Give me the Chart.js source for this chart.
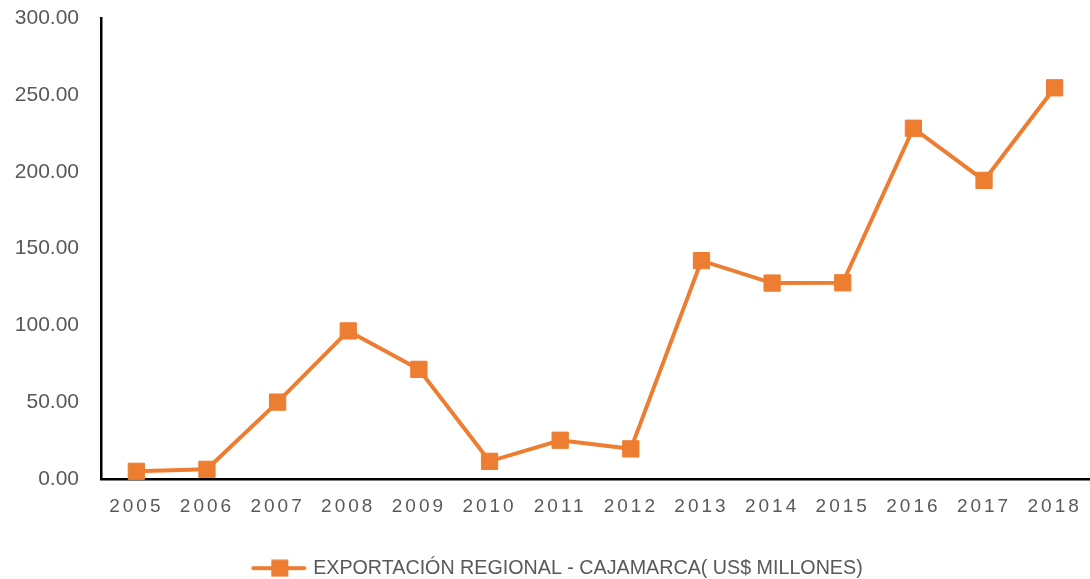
<!DOCTYPE html>
<html lang="es">
<head>
    <meta charset="UTF-8">
    <title>Exportación regional - Cajamarca</title>
    <script src="https://cdn.jsdelivr.net/npm/chart.js"></script>
    <style>
        html, body { margin: 0; padding: 0; background: #fff; }
        #wrap { width: 1090px; height: 579px; }
    </style>
</head>
<body>
    <div id="wrap">
        <canvas id="expChart" width="1090" height="579"></canvas>
    </div>

    <script>
        // años y exportaciones (US$ millones)
        const years = ['2005', '2006', '2007', '2008', '2009', '2010', '2011',
                       '2012', '2013', '2014', '2015', '2016', '2017', '2018'];
        const exportaciones = [5.2, 6.5, 50.2, 96.5, 71.5, 11.7, 25.4,
                               19.8, 142.2, 127.6, 127.8, 228.3, 194.4, 254.6];
        const serieNombre = 'EXPORTACIÓN REGIONAL - CAJAMARCA( US$ MILLONES)';

        const naranja = '#ED7D31';
        const gris = '#595959';

        // icono de la leyenda: línea con cuadrado al centro
        const icono = document.createElement('canvas');
        icono.width = 90;
        icono.height = 18;
        (function () {
            const c = icono.getContext('2d');
            c.strokeStyle = naranja;
            c.lineWidth = 4;
            c.lineCap = 'round';
            c.beginPath();
            c.moveTo(33, 9);
            c.lineTo(84, 9);
            c.stroke();
            c.fillStyle = naranja;
            c.fillRect(51, 0.5, 17, 17);
        })();

        // espaciado entre letras para los años del eje x
        const espaciadoX = {
            id: 'espaciadoX',
            afterUpdate(chart) {
                const sx = chart.scales.x;
                if (sx && !sx._espaciado) {
                    const orig = sx.drawLabels;
                    sx.drawLabels = function (area) {
                        const ctx = this.ctx;
                        ctx.save();
                        ctx.letterSpacing = '3px';
                        orig.call(this, area);
                        ctx.restore();
                    };
                    sx._espaciado = true;
                }
            }
        };

        const ctx = document.getElementById('expChart').getContext('2d');
        new Chart(ctx, {
            type: 'line',
            data: {
                labels: years,
                datasets: [{
                    label: serieNombre,
                    data: exportaciones,
                    borderColor: naranja,
                    backgroundColor: naranja,
                    borderWidth: 4,
                    pointStyle: 'rect',
                    pointRadius: 11.5,
                    pointHoverRadius: 11.5,
                    pointBorderWidth: 1,
                    pointBorderColor: naranja,
                    pointBackgroundColor: naranja,
                    fill: false,
                    tension: 0,
                    clip: false
                }]
            },
            options: {
                responsive: false,
                animation: false,
                layout: {
                    autoPadding: false,
                    padding: { top: 18, right: 0, left: 0, bottom: -9 }
                },
                plugins: {
                    tooltip: { enabled: false },
                    legend: {
                        position: 'bottom',
                        labels: {
                            usePointStyle: true,
                            pointStyle: icono,
                            pointStyleWidth: 76,
                            color: gris,
                            padding: 2,
                            font: { family: 'Liberation Sans', size: 19.7 }
                        }
                    }
                },
                scales: {
                    x: {
                        offset: true,
                        grid: { display: false, drawTicks: false },
                        border: { display: true, color: '#000', width: 2.5 },
                        ticks: {
                            color: gris,
                            autoSkip: false,
                            maxRotation: 0,
                            padding: 16,
                            font: { family: 'Liberation Sans', size: 19 }
                        },
                        afterFit(s) {
                            s.height = 77;
                            s.paddingLeft = 0;
                            s.paddingRight = 0;
                        }
                    },
                    y: {
                        min: 0,
                        max: 300,
                        grid: { display: false, drawTicks: false },
                        border: { display: true, color: '#000', width: 2.5 },
                        ticks: {
                            stepSize: 50,
                            color: gris,
                            padding: 22,
                            font: { family: 'Liberation Sans', size: 21 },
                            callback: v => v.toFixed(2)
                        },
                        afterFit(s) {
                            s.width = 101;
                            s.paddingTop = 0;
                            s.paddingBottom = 0;
                        }
                    }
                }
            },
            plugins: [espaciadoX]
        });
    </script>
</body>
</html>
